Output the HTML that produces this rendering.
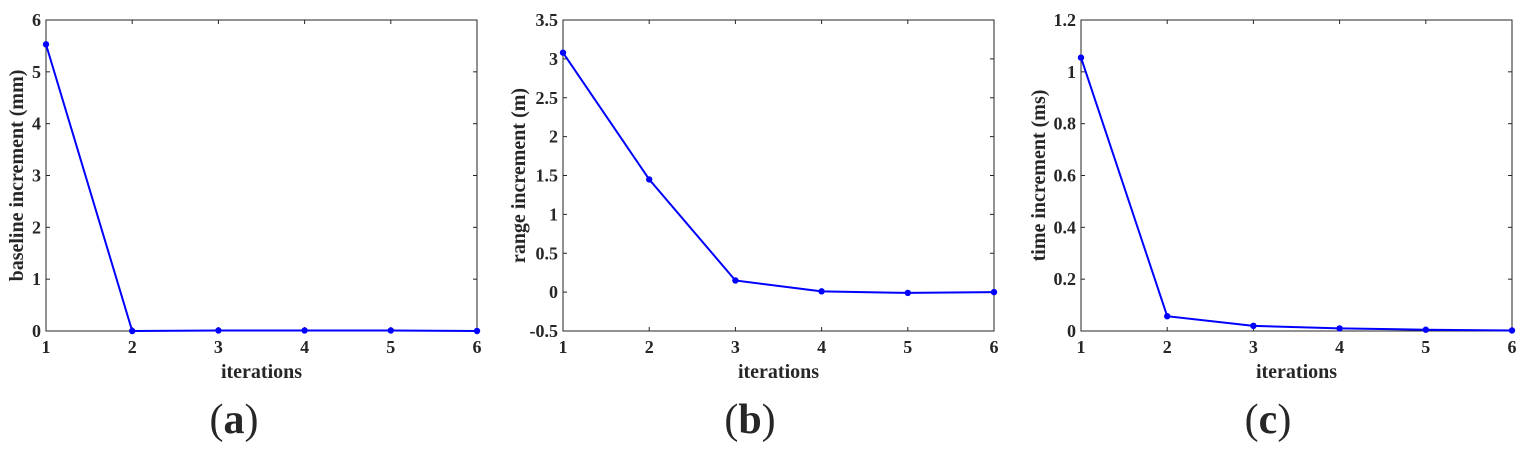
<!DOCTYPE html>
<html><head><meta charset="utf-8"><style>
body{margin:0;background:#fff;width:1534px;height:450px;overflow:hidden}
svg text{font-family:"Liberation Serif",serif;font-weight:bold;fill:#262626}
</style></head><body>
<svg id="fig" width="1534" height="450" xmlns="http://www.w3.org/2000/svg"></svg>
<script>
const iterations=[1,2,3,4,5,6];
const baselineValues=[5.53,0.0,0.01,0.01,0.01,0.0];
const rangeValues=[3.08,1.45,0.15,0.01,-0.01,0.0];
const timeValues=[1.055,0.057,0.02,0.01,0.005,0.002];
const baselineTicks=["0","1","2","3","4","5","6"];
const rangeTicks=["-0.5","0","0.5","1","1.5","2","2.5","3","3.5"];
const timeTicks=["0","0.2","0.4","0.6","0.8","1","1.2"];
const NS="http://www.w3.org/2000/svg";
const svg=document.getElementById('fig');
function mk(tag,attrs,parent){const e=document.createElementNS(NS,tag);for(const k in attrs)e.setAttribute(k,attrs[k]);(parent||svg).appendChild(e);return e;}
const panels=[
 {id:'a',x0:46,x1:477,vals:baselineValues,ticks:baselineTicks,label:'baseline increment (mm)',lx:17,cap:234},
 {id:'b',x0:563,x1:994,vals:rangeValues,ticks:rangeTicks,label:'range increment (m)',lx:519,cap:750},
 {id:'c',x0:1081,x1:1512,vals:timeValues,ticks:timeTicks,label:'time increment (ms)',lx:1039,cap:1268}
];
const y0=331,y1=20;
panels.forEach(p=>{
 const g=mk('g',{});
 
 
 const tv=p.ticks.map(Number);
 const ymin=tv[0],ymax=tv[tv.length-1];
 const sx=v=>p.x0+(v-1)/(iterations.length-1)*(p.x1-p.x0);
 const sy=v=>y0-(v-ymin)/(ymax-ymin)*(y0-y1);
 const box=mk('rect',{x:p.x0,y:y1,width:p.x1-p.x0,height:y0-y1,fill:'none',stroke:'#262626','stroke-width':1},g);
 
 
 iterations.forEach(i=>{
  const x=sx(i);
  mk('line',{x1:x,y1:y0,x2:x,y2:y0-4,stroke:'#262626'},g);
  mk('line',{x1:x,y1:y1,x2:x,y2:y1+4,stroke:'#262626'},g);
  const t=mk('text',{x:x,y:y0+22,'text-anchor':'middle','font-size':18},g);
  t.textContent=i;
  
  
 });
 p.ticks.forEach(s=>{
  const y=sy(Number(s));
  mk('line',{x1:p.x0,y1:y,x2:p.x0+4,y2:y,stroke:'#262626'},g);
  mk('line',{x1:p.x1,y1:y,x2:p.x1-4,y2:y,stroke:'#262626'},g);
  const t=mk('text',{x:p.x0-5,y:y+6,'text-anchor':'end','font-size':18},g);
  t.textContent=s;
  
  
 });
 const pts=p.vals.map((v,i)=>sx(iterations[i])+','+sy(v)).join(' ');
 const line=mk('polyline',{points:pts,fill:'none',stroke:'#0000ff','stroke-width':2},g);
 
 
 p.vals.forEach((v,i)=>{
  const c=mk('circle',{cx:sx(iterations[i]),cy:sy(v),r:3.2,fill:'#0000ff'},g);
  
  
 });
 const xl=mk('text',{x:(p.x0+p.x1)/2,y:378,'text-anchor':'middle','font-size':20},g);
 xl.textContent='iterations';
 
 
 const yl=mk('text',{x:0,y:0,'text-anchor':'middle','font-size':20,transform:`translate(${p.lx+6},${(y0+y1)/2}) rotate(-90)`},g);
 yl.textContent=p.label;
 
 
 const cap=mk('text',{x:p.cap,y:433,'text-anchor':'middle','font-size':42},g);
 cap.innerHTML='<tspan font-weight="normal">(</tspan>'+p.id+'<tspan font-weight="normal">)</tspan>';
 
 
});
</script>
</body></html>
